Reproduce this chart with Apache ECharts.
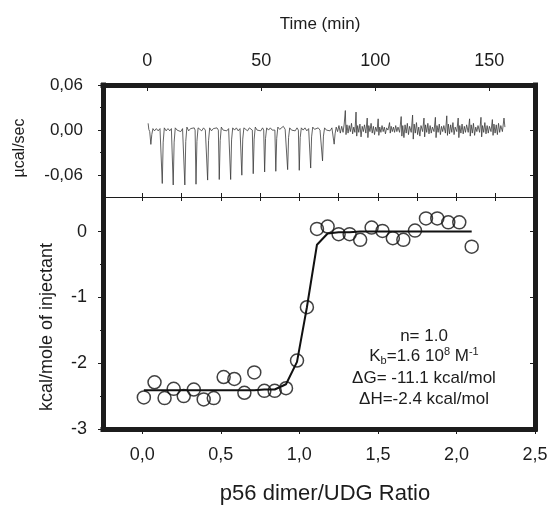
<!DOCTYPE html>
<html>
<head>
<meta charset="utf-8">
<script src="https://cdn.jsdelivr.net/npm/echarts@6/dist/echarts.min.js"></script>
<style>
html,body{margin:0;padding:0;background:#fff;}
#chart{width:551px;height:507px;}
</style>
</head>
<body>
<div id="chart"></div>
<script>
// ---- Data ----
// Raw ITC thermogram: [time (min), heat rate (µcal/sec)]
const thermogram = [
  [0.4,0.009],[0.7,0.001],[1.1,-0.002],[1.6,-0.019],[2.0,-0.006],[2.5,0.002],[3.2,-0.001],[4.0,0.002],[4.8,-0.001],[5.6,0.002],[6.2,0.000],
  [6.6,-0.071],[7.0,-0.016],[7.5,0.003],[8.3,-0.001],[9.1,0.002],[9.9,-0.001],[10.6,0.002],[11.0,0.000],
  [11.4,-0.073],[11.8,-0.016],[12.3,0.003],[13.1,0.000],[13.9,0.002],[14.7,-0.002],[15.5,0.002],[16.1,0.000],
  [16.5,-0.073],[16.9,-0.015],[17.4,0.004],[18.2,-0.001],[19.0,0.002],[19.8,0.000],[20.6,0.003],[21.0,0.000],
  [21.4,-0.072],[21.8,-0.015],[22.3,0.003],[23.1,0.001],[23.9,-0.001],[24.7,0.003],[25.5,0.000],[26.1,0.001],
  [26.5,-0.0665],[26.9,-0.014],[27.4,0.003],[28.2,-0.001],[29.0,0.002],[29.8,0.000],[30.6,0.003],[31.2,0.000],
  [31.6,-0.0657],[32.0,-0.014],[32.5,0.004],[33.3,0.000],[34.1,0.002],[34.9,-0.001],[35.7,0.002],[36.2,0.000],
  [36.6,-0.0657],[37.0,-0.013],[37.5,0.003],[38.3,0.000],[39.1,0.003],[39.9,-0.001],[40.7,0.002],[41.1,0.000],
  [41.5,-0.060],[41.9,-0.012],[42.4,0.003],[43.2,0.001],[44.0,-0.001],[44.8,0.003],[45.6,0.001],[46.1,0.000],
  [46.5,-0.058],[46.9,-0.012],[47.4,0.004],[48.2,0.000],[49.0,0.002],[49.8,-0.001],[50.6,0.003],[51.1,0.000],
  [51.5,-0.0557],[51.9,-0.011],[52.4,0.003],[53.2,0.000],[54.0,0.003],[54.8,0.000],[55.6,0.002],[56.0,0.000],
  [56.4,-0.0548],[56.8,-0.011],[57.3,0.004],[58.1,0.001],[58.9,-0.001],[59.7,0.005],[60.5,0.001],[61.2,0.000],
  [61.6,-0.0526],[62.0,-0.010],[62.5,0.003],[63.3,0.000],[64.1,0.002],[64.9,-0.001],[65.7,0.003],[66.3,0.000],
  [66.7,-0.0535],[67.1,-0.010],[67.6,0.003],[68.4,0.000],[69.2,0.003],[70.0,-0.001],[70.8,0.002],[71.3,0.000],
  [71.7,-0.0505],[72.1,-0.009],[72.6,0.004],[73.4,0.001],[74.2,-0.001],[75.0,0.003],[75.8,0.000],[76.5,0.001],
  [76.9,-0.041],[77.3,-0.008],[77.8,0.003],[78.6,0.000],[79.4,0.002],[80.2,-0.001],[81.0,0.003],[81.6,0.001],
  [82.0,-0.0187],[82.4,-0.005],[82.9,0.004],[83.5,-0.002],[84.1,0.006],[84.7,-0.004],[85.3,0.005],[85.9,-0.003],[86.4,0.008],
  [86.9,0.026],[87.2,-0.006],[87.6,0.007],[88.1,-0.004],[88.6,0.006],[89.1,-0.002],[89.6,0.009],[90.1,-0.005],[90.6,0.004],[91.1,-0.003],
  [91.6,0.024],[91.9,-0.008],[92.3,0.006],[92.8,-0.003],[93.3,0.008],[93.8,-0.009],[94.3,0.005],[94.8,-0.002],[95.3,0.007],[95.9,-0.004],
  [96.5,0.016],[96.8,-0.010],[97.2,0.006],[97.7,-0.002],[98.2,0.009],[98.7,-0.004],[99.2,0.005],[99.7,-0.006],[100.2,0.004],[100.8,-0.002],
  [101.3,0.015],[101.6,-0.007],[102.0,0.004],[102.5,-0.003],[103.0,0.006],[103.5,-0.002],[104.0,0.004],[104.5,-0.005],[105.0,0.003],[105.6,0.000],
  [106.3,0.010],[106.6,-0.004],[107.0,0.005],[107.5,-0.002],[108.0,0.004],[108.5,-0.003],[109.0,0.006],[109.5,-0.002],[110.0,0.004],[110.7,-0.003],
  [111.4,0.018],[111.7,-0.008],[112.1,0.006],[112.6,-0.010],[113.1,0.007],[113.6,-0.004],[114.1,0.009],[114.6,-0.006],[115.1,0.005],[115.8,-0.003],
  [116.4,0.020],[116.7,-0.012],[117.1,0.008],[117.6,-0.004],[118.1,0.010],[118.6,-0.006],[119.1,0.004],[119.6,-0.008],[120.1,0.006],[120.8,-0.002],
  [121.4,0.016],[121.7,-0.009],[122.1,0.007],[122.6,-0.003],[123.1,0.009],[123.6,-0.005],[124.1,0.006],[124.6,-0.004],[125.1,0.004],[125.8,-0.002],
  [126.4,0.017],[126.7,-0.010],[127.1,0.006],[127.6,-0.003],[128.1,0.008],[128.6,-0.006],[129.1,0.005],[129.6,-0.002],[130.1,0.006],[130.8,-0.004],
  [131.4,0.019],[131.7,-0.007],[132.1,0.008],[132.6,-0.005],[133.1,0.007],[133.6,-0.003],[134.1,0.010],[134.6,-0.006],[135.1,0.004],[135.8,-0.002],
  [136.4,0.016],[136.7,-0.010],[137.1,0.006],[137.6,-0.004],[138.1,0.008],[138.6,-0.005],[139.1,0.005],[139.6,-0.003],[140.1,0.007],[140.8,-0.003],
  [141.4,0.015],[141.7,-0.008],[142.1,0.007],[142.6,-0.004],[143.1,0.009],[143.6,-0.007],[144.1,0.004],[144.6,-0.002],[145.1,0.006],[145.8,-0.003],
  [146.4,0.017],[146.7,-0.009],[147.1,0.006],[147.6,-0.003],[148.1,0.010],[148.6,-0.005],[149.1,0.006],[149.6,-0.004],[150.1,0.005],[150.8,-0.002],
  [151.4,0.014],[151.7,-0.007],[152.1,0.008],[152.6,-0.004],[153.1,0.007],[153.6,-0.006],[154.1,0.009],[154.6,-0.003],[155.1,0.006],[155.8,-0.002],
  [156.5,0.016],[156.9,0.004]
];

// Integrated heats: molar ratio and kcal/mole of injectant
const ratio = [0.01,0.078,0.142,0.20,0.264,0.328,0.391,0.455,0.518,0.586,0.65,0.713,0.777,0.843,0.915,0.985,
               1.048,1.112,1.18,1.25,1.32,1.387,1.46,1.529,1.595,1.662,1.736,1.806,1.878,1.948,2.018,2.097];
const heat  = [-2.52,-2.29,-2.53,-2.39,-2.50,-2.40,-2.55,-2.53,-2.21,-2.24,-2.45,-2.14,-2.42,-2.42,-2.38,-1.96,
               -1.15,0.04,0.076,-0.04,-0.04,-0.126,0.06,0.01,-0.10,-0.126,0.015,0.20,0.20,0.14,0.14,-0.23];
// Fitted binding curve (at each injection)
const fit   = [-2.41,-2.41,-2.41,-2.41,-2.41,-2.41,-2.41,-2.41,-2.41,-2.41,-2.41,-2.41,-2.40,-2.40,-2.32,-1.98,
               -1.15,-0.20,-0.03,-0.01,-0.01,0.00,0.00,0.00,0.00,0.00,0.00,0.00,0.00,0.00,0.00,0.00];

// Tick values
const timeTicks = [0,50,100,150];
const timeMinor = [25,75,125];
const ratioTicks = [0,0.5,1,1.5,2,2.5];
const ratioMinor = [0.25,0.75,1.25,1.75,2.25];
const rateTicks = [-0.06,0,0.06];
const rateMinor = [-0.03,0.03];
const kcalTicks = [-3,-2,-1,0];
const kcalMinor = [-2.5,-1.5,-0.5];

const FONT = "'Liberation Sans', Arial, Helvetica, sans-serif";
const INK = '#1c1c1c';
const comma = d => v => v.toFixed(d).replace('.', ',');

const chart = echarts.init(document.getElementById('chart'), null, {renderer:'canvas'});

function ax(o) {
  const base = {
    type:'value',
    splitLine:{show:false},
    axisLine:{show:false, onZero:false},
    axisTick:{show:false},
    axisLabel:{show:false},
  };
  return Object.assign(base, o);
}
const thick = {show:true, onZero:false, lineStyle:{color:INK, width:5, cap:'square'}};
const tickStyle = {color:INK, width:1};

const option = {
  animation:false,
  backgroundColor:'#fff',
  grid:[
    {left:103, right:16, top:85, height:112},
    {left:103, right:16, top:197, height:232}
  ],
  xAxis:[
    ax({gridIndex:0, position:'top', min:-19.4, max:170.1, axisLine:thick,
        axisTick:{show:true, inside:true, length:6, customValues:timeTicks, lineStyle:tickStyle},
        axisLabel:{show:true, customValues:timeTicks, margin:15, fontSize:18, color:INK, fontFamily:FONT}}),
    ax({gridIndex:0, position:'top', min:-19.4, max:170.1,
        axisTick:{show:true, inside:true, length:3, customValues:timeMinor, lineStyle:tickStyle}}),
    ax({gridIndex:0, position:'bottom', min:-0.25, max:2.5, interval:0.25,
        axisTick:{show:true, inside:true, length:4, lineStyle:tickStyle}}),
    ax({gridIndex:1, position:'bottom', min:-0.25, max:2.5, axisLine:thick,
        axisTick:{show:true, inside:false, length:5, customValues:ratioTicks, lineStyle:tickStyle},
        axisLabel:{show:true, customValues:ratioTicks, formatter:comma(1), margin:17, fontSize:18, color:INK, fontFamily:FONT}}),
    ax({gridIndex:1, position:'bottom', min:-0.25, max:2.5,
        axisTick:{show:true, inside:false, length:3, customValues:ratioMinor, lineStyle:tickStyle}}),
    ax({gridIndex:1, position:'top', min:-0.25, max:2.5, interval:0.25,
        axisLine:{show:true, onZero:false, lineStyle:{color:INK, width:1.2}},
        axisTick:{show:true, inside:true, length:4, lineStyle:tickStyle}})
  ],
  yAxis:[
    ax({gridIndex:0, position:'left', min:-0.089, max:0.06, axisLine:thick,
        axisTick:{show:true, inside:false, length:5, customValues:rateTicks, lineStyle:tickStyle},
        axisLabel:{show:true, customValues:rateTicks, formatter:comma(2), margin:20, fontSize:17, color:INK, fontFamily:FONT}}),
    ax({gridIndex:0, position:'left', min:-0.089, max:0.06,
        axisTick:{show:true, inside:false, length:3, customValues:rateMinor, lineStyle:tickStyle}}),
    ax({gridIndex:0, position:'right', min:-0.089, max:0.06, axisLine:thick,
        axisTick:{show:true, inside:true, length:5, customValues:rateTicks, lineStyle:tickStyle}}),
    ax({gridIndex:1, position:'left', min:-3, max:0.525, axisLine:thick,
        axisTick:{show:true, inside:false, length:5, customValues:kcalTicks, lineStyle:tickStyle},
        axisLabel:{show:true, customValues:kcalTicks, margin:16, fontSize:18, color:INK, fontFamily:FONT}}),
    ax({gridIndex:1, position:'left', min:-3, max:0.525,
        axisTick:{show:true, inside:false, length:3, customValues:kcalMinor, lineStyle:tickStyle}}),
    ax({gridIndex:1, position:'right', min:-3, max:0.525, axisLine:thick,
        axisTick:{show:true, inside:true, length:5, customValues:kcalTicks, lineStyle:tickStyle}})
  ],
  series:[
    {type:'line', xAxisIndex:0, yAxisIndex:0, data:thermogram, showSymbol:false, symbol:'none',
     lineStyle:{color:'#3a3a3a', width:0.8}, z:2},
    {type:'line', xAxisIndex:3, yAxisIndex:3, data:ratio.map((x,i)=>[x, fit[i]]), showSymbol:false, symbol:'none',
     lineStyle:{color:'#111', width:2}, z:2},
    {type:'scatter', xAxisIndex:3, yAxisIndex:3, data:ratio.map((x,i)=>[x, heat[i]]), symbol:'circle', symbolSize:13,
     itemStyle:{color:'rgba(255,255,255,0)', borderColor:'#111', borderWidth:1.5}, z:3}
  ],
  graphic:[
    {type:'text', x:320, y:24, style:{text:'Time (min)', fontSize:17, fontFamily:FONT, fill:INK, align:'center', verticalAlign:'middle', textAlign:'center', textVerticalAlign:'middle'}},
    {type:'text', x:325, y:494, style:{text:'p56 dimer/UDG Ratio', fontSize:22, fontFamily:FONT, fill:INK, align:'center', verticalAlign:'middle', textAlign:'center', textVerticalAlign:'middle'}},
    {type:'text', x:20, y:148, rotation:Math.PI/2, style:{text:'µcal/sec', fontSize:16, fontFamily:FONT, fill:INK, align:'center', verticalAlign:'middle', textAlign:'center', textVerticalAlign:'middle'}},
    {type:'text', x:47, y:327, rotation:Math.PI/2, style:{text:'kcal/mole of injectant', fontSize:18, fontFamily:FONT, fill:INK, align:'center', verticalAlign:'middle', textAlign:'center', textVerticalAlign:'middle'}},
    {type:'text', x:424, y:336, style:{text:'n= 1.0', fontSize:17, fontFamily:FONT, fill:INK, align:'center', verticalAlign:'middle', textAlign:'center', textVerticalAlign:'middle'}},
    {type:'text', x:424, y:356, style:{
      text:'{n|K}{sub|b}{n|=1.6 10}{sup|8}{n| M}{sup|-1}',
      fontSize:17, fontFamily:FONT, fill:INK, align:'center', verticalAlign:'middle', textAlign:'center', textVerticalAlign:'middle',
      rich:{
        n:{fontSize:17, fontFamily:FONT, fill:INK, color:INK, lineHeight:20},
        sub:{fontSize:11, fontFamily:FONT, fill:INK, color:INK, verticalAlign:'bottom', lineHeight:14, padding:[4,0,0,0]},
        sup:{fontSize:11, fontFamily:FONT, fill:INK, color:INK, verticalAlign:'top', lineHeight:12}
      }}},
    {type:'text', x:424, y:378, style:{text:'ΔG= -11.1 kcal/mol', fontSize:17, fontFamily:FONT, fill:INK, align:'center', verticalAlign:'middle', textAlign:'center', textVerticalAlign:'middle'}},
    {type:'text', x:424, y:399, style:{text:'ΔH=-2.4 kcal/mol', fontSize:17, fontFamily:FONT, fill:INK, align:'center', verticalAlign:'middle', textAlign:'center', textVerticalAlign:'middle'}}
  ]
};
chart.setOption(option);
</script>
</body>
</html>
